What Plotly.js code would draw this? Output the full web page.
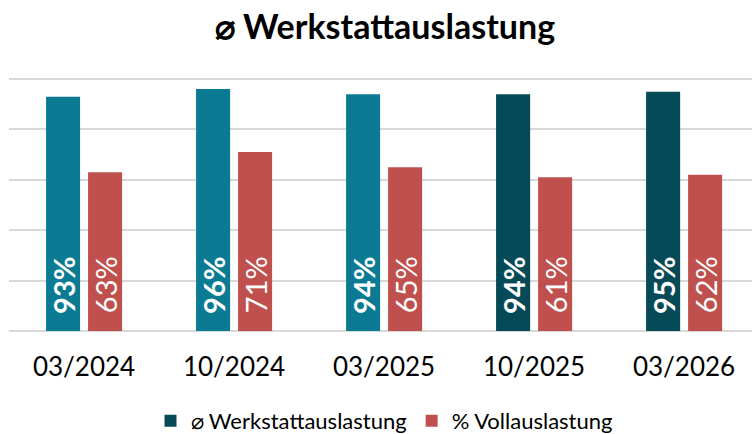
<!DOCTYPE html>
<html>
<head>
<meta charset="utf-8">
<script src="https://cdn.plot.ly/plotly-3.0.1.min.js"></script>
<style>html,body{margin:0;padding:0;background:#fff;}#chart{width:752px;height:434px;}</style>
</head>
<body>
<div id="chart"></div>
<script>
const categories = ['03/2024', '10/2024', '03/2025', '10/2025', '03/2026'];
const werkstatt = [93, 96, 94, 94, 95];
const voll = [63, 71, 65, 61, 62];
const darkPeriod = [false, false, false, true, true];
const seriesNames = ['⌀ Werkstattauslastung', '% Vollauslastung'];

const FONT = 'Lato, "Liberation Sans", sans-serif';
const pct = v => (v == null ? '' : '\u00a0\u00a0' + v + '%');
const TEAL = '#0A7B93', DARK = '#064A58', RED = '#C0504D';

const werkstattDark = werkstatt.map((v, i) => darkPeriod[i] ? v : null);
const werkstattTeal = werkstatt.map((v, i) => darkPeriod[i] ? null : v);

function werkTrace(yv, color, showLegend) {
  return {
    type: 'bar', name: seriesNames[0], legendgroup: 'w', showlegend: showLegend,
    x: categories, y: yv,
    text: yv.map(pct), textposition: 'inside', insidetextanchor: 'start',
    textangle: -90, constraintext: 'none',
    textfont: {family: FONT, size: 29, color: '#ffffff', weight: 'bold'},
    marker: {color: color}, width: 0.227, offset: -0.253,
    hoverinfo: 'x+y'
  };
}

const traces = [
  werkTrace(werkstattDark, DARK, true),
  werkTrace(werkstattTeal, TEAL, false),
  {
    type: 'bar', name: seriesNames[1], x: categories, y: voll,
    text: voll.map(pct), textposition: 'inside', insidetextanchor: 'start',
    textangle: -90, constraintext: 'none',
    textfont: {family: FONT, size: 29, color: '#ffffff'},
    marker: {color: RED}, width: 0.227, offset: 0.027,
    hoverinfo: 'x+y'
  }
];

const layout = {
  width: 752, height: 434,
  margin: {l: 9, r: 0, t: 74, b: 103, pad: 0},
  paper_bgcolor: '#ffffff', plot_bgcolor: '#ffffff',
  font: {family: FONT, color: '#000000'},
  title: {
    text: '<b>⌀ Werkstattauslastung</b>',
    font: {family: FONT, size: 34, color: '#000000'},
    x: 385/752, xanchor: 'center', xref: 'container',
    y: 1 - 27/434, yanchor: 'middle', yref: 'container'
  },
  barmode: 'overlay',
  xaxis: {
    type: 'category', range: [-0.5, 4.453],
    showgrid: false, zeroline: false, showline: false, ticks: '',
    tickfont: {family: FONT, size: 26, color: '#000000'},
    ticklabelstandoff: 18
  },
  yaxis: {
    range: [0, 102], tickvals: [0, 20, 40, 60, 80, 100],
    showticklabels: false, showgrid: true, gridcolor: '#D9D9D9', gridwidth: 2,
    zeroline: true, zerolinecolor: '#D9D9D9', zerolinewidth: 2, showline: false
  },
  showlegend: true,
  legend: {
    orientation: 'h', xref: 'container', yref: 'container',
    x: 384/752, xanchor: 'center', y: 1 - 421/434, yanchor: 'middle',
    font: {family: FONT, size: 22, color: '#000000'},
    traceorder: 'normal', itemclick: false, itemwidth: 30
  }
};

Plotly.newPlot('chart', traces, layout, {displayModeBar: false, staticPlot: true});
</script>
</body>
</html>
